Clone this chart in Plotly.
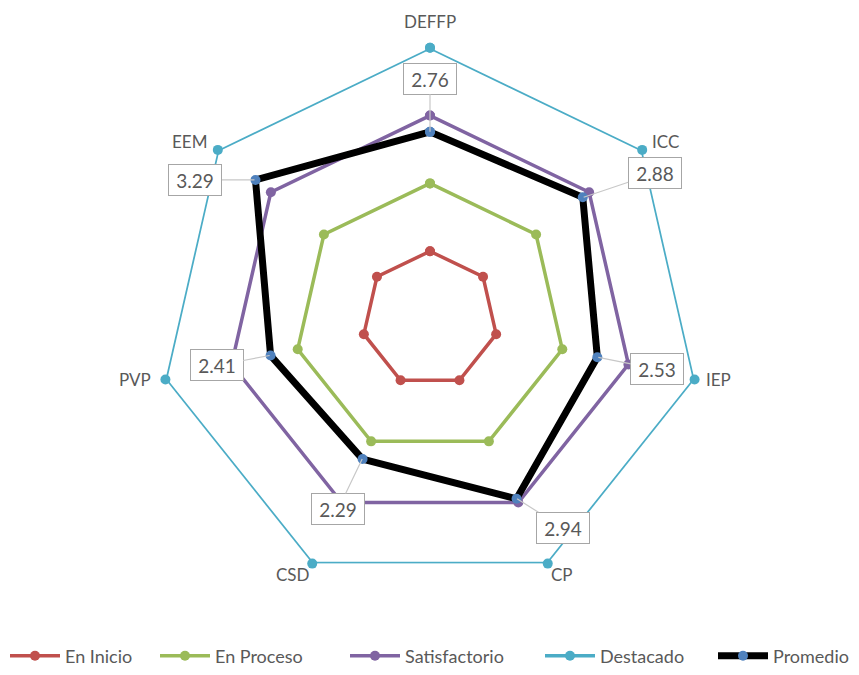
import math
import plotly.graph_objects as go

categories = ["DEFFP", "ICC", "IEP", "CP", "CSD", "PVP", "EEM"]
en_inicio = [1, 1, 1, 1, 1, 1, 1]
en_proceso = [2, 2, 2, 2, 2, 2, 2]
satisfactorio = [3, 3, 3, 3, 3, 3, 3]
destacado = [4, 4, 4, 4, 4, 4, 4]
promedio = [2.76, 2.88, 2.53, 2.94, 2.29, 2.41, 3.29]

# style: label box offsets (pixels) relative to each Promedio point
label_offsets = [(0, -53), (71, -24), (59, 12), (46, 29), (-24, 50), (-53, 10), (-59, 0)]
# style: category label offsets (pixels) relative to outer vertex
cat_offsets = [(0, -26), (22, -8), (22, 0), (14, 11), (-19, 11), (-29, 0), (-27, -8)]
# style: legend entry left positions (pixels)
legend_x = [10, 160, 350, 545, 718]

W, H = 859, 675
PL, PT, PS = 157, 48, 546
RMAX = 4.0

def closed(v):
    return list(v) + [v[0]]

cats = closed(categories)
font_fam = "Lato, 'Liberation Sans', sans-serif"
gray = "#595959"

series = [
    ("En Inicio", en_inicio, "#C0504D", 3.5, "#C0504D"),
    ("En Proceso", en_proceso, "#9BBB59", 3.5, "#9BBB59"),
    ("Satisfactorio", satisfactorio, "#8064A2", 3.5, "#8064A2"),
    ("Destacado", destacado, "#4BACC6", 3.5, "#4BACC6"),
    ("Promedio", promedio, "#000000", 7, "#4F81BD"),
]

fig = go.Figure()
legend_layouts = {}
for k, (name, vals, col, lw, mcol) in enumerate(series):
    lg = "legend" if k == 0 else f"legend{k + 1}"
    fig.add_trace(go.Scatterpolar(
        r=closed(vals), theta=cats, name=name, mode="lines+markers",
        line=dict(color=col, width=lw),
        marker=dict(color=mcol, size=10),
        hoverinfo="skip", legend=lg, showlegend=True,
    ))
    legend_layouts[lg] = dict(
        orientation="h", x=(legend_x[k] - 5) / W, xanchor="left",
        y=1 - 660 / H, yanchor="middle",
        font=dict(family=font_fam, size=18, color=gray),
        itemwidth=50, bgcolor="rgba(0,0,0,0)", borderwidth=0, visible=True,
    )

cx = PL + PS / 2.0
cy = PT + PS / 2.0
R = PS / 2.0
n = len(categories)

def to_px(v, i):
    ang = 2 * math.pi * i / n
    return cx + R * v / RMAX * math.sin(ang), cy - R * v / RMAX * math.cos(ang)

annotations = []
# category labels
for i, c in enumerate(categories):
    px, py = to_px(RMAX, i)
    dx, dy = cat_offsets[i]
    annotations.append(dict(
        x=(px + dx) / W, y=1 - (py + dy) / H, xref="paper", yref="paper",
        text=c, showarrow=False, xanchor="center", yanchor="middle",
        font=dict(family=font_fam, size=17, color=gray),
    ))
# value labels for Promedio
for i, v in enumerate(promedio):
    px, py = to_px(v, i)
    dx, dy = label_offsets[i]
    annotations.append(dict(
        x=px / W, y=1 - py / H, xref="paper", yref="paper",
        text=f"{v:.2f}", showarrow=True, ax=dx, ay=dy,
        arrowhead=0, arrowwidth=1.2, arrowcolor="#C8C8C8", standoff=0,
        width=44, height=22, align="center", valign="middle",
        bordercolor="#A6A6A6", borderwidth=1, borderpad=4, bgcolor="white",
        font=dict(family=font_fam, size=19, color=gray),
    ))

fig.update_layout(
    width=W, height=H,
    margin=dict(l=0, r=0, t=0, b=0),
    paper_bgcolor="white",
    showlegend=True,
    font=dict(family=font_fam, size=16, color=gray),
    polar=dict(
        domain=dict(x=[PL / W, (PL + PS) / W], y=[1 - (PT + PS) / H, 1 - PT / H]),
        bgcolor="white",
        gridshape="linear",
        radialaxis=dict(visible=False, range=[0, RMAX]),
        angularaxis=dict(direction="clockwise", rotation=90, showgrid=False,
                         showline=False, ticks="", showticklabels=False),
    ),
    annotations=annotations,
    **legend_layouts,
)

fig.write_html("out.html", config={"displayModeBar": False},
               post_script="document.body.style.margin='0';")
